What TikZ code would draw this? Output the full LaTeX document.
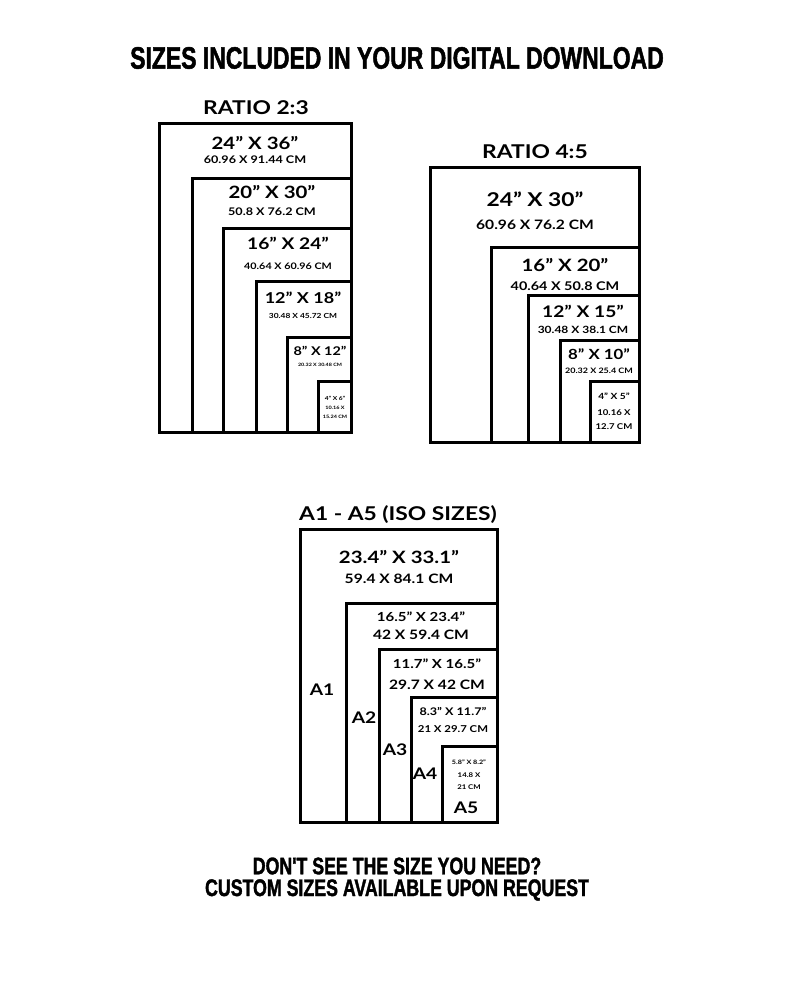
\documentclass[tikz,border=0pt]{standalone}
\usepackage{fontspec}
\setmainfont{Lato}[FakeStretch=1.2]
\newfontfamily\condfont{Liberation Sans}[FakeStretch=0.74,FakeBold=1.5]
\tikzset{
    every node/.append style={font=\bfseries, inner sep=0pt},
    frame/.style={line width=3pt, draw=black},
    head/.style={font=\condfont\bfseries\fontsize{31}{32}\selectfont},
    foot/.style={font=\condfont\bfseries\fontsize{24}{24}\selectfont},
    group/.style={font=\bfseries\fontsize{19}{20}\selectfont},
    big/.style={font=\bfseries\fontsize{#1}{#1}\selectfont},
}
\begin{document}
\begin{tikzpicture}[x=1pt,y=-1pt]
  \useasboundingbox (0,0) rectangle (794,993);

  % titles
  \node[head] (title) at (397,58) {SIZES INCLUDED IN YOUR DIGITAL DOWNLOAD};
  \node[foot] (ask) at (397,866) {DON'T SEE THE SIZE YOU NEED?};
  \node[foot] (custom) at (397,890) {CUSTOM SIZES AVAILABLE UPON REQUEST};

  % ratio 2:3
  \node[group] (r23) at (256,108) {RATIO 2:3};
  \foreach \x/\y in {159/123,192/178,223/228,256/281,287/337,318/381}
    \draw[frame] (\x,\y) rectangle (351,432);
  \node[big=17] (s36) at (255,143) {24'' X 36''};
  \node[big=10.5] (c36) at (255,160) {60.96 X 91.44 CM};
  \node[big=17] (s30) at (272,192) {20'' X 30''};
  \node[big=10.5] (c30) at (272,212) {50.8 X 76.2 CM};
  \node[big=16] (s24) at (288,243) {16'' X 24''};
  \node[big=9] (c24) at (288,266) {40.64 X 60.96 CM};
  \node[big=15] (s18) at (303,298) {12'' X 18''};
  \node[big=7] (c18) at (303,316) {30.48 X 45.72 CM};
  \node[big=12] (s12) at (320,351) {8'' X 12''};
  \node[big=4.5] (c12) at (320,365) {20.32 X 30.48 CM};
  \node[big=5.5] (s6) at (335,398) {4'' X 6''};
  \node[big=4.6] (c6a) at (335,408) {10.16 X};
  \node[big=4.6] (c6b) at (335,417) {15.24 CM};

  % ratio 4:5
  \node[group] (r45) at (535,152) {RATIO 4:5};
  \foreach \x/\y in {430/167,491/247,528/295,560/340,590/381}
    \draw[frame] (\x,\y) rectangle (639,442);
  \node[big=19] (s530) at (535,199) {24'' X 30''};
  \node[big=13] (c530) at (535,225) {60.96 X 76.2 CM};
  \node[big=17] (s520) at (565,265) {16'' X 20''};
  \node[big=12] (c520) at (565,286) {40.64 X 50.8 CM};
  \node[big=16] (s515) at (583,311) {12'' X 15''};
  \node[big=10] (c515) at (583,330) {30.48 X 38.1 CM};
  \node[big=14] (s510) at (599,354) {8'' X 10''};
  \node[big=7.5] (c510) at (599,371) {20.32 X 25.4 CM};
  \node[big=8.5] (s55) at (614,396) {4'' X 5''};
  \node[big=8] (c55a) at (614,413) {10.16 X};
  \node[big=8] (c55b) at (614,427) {12.7 CM};

  % iso sizes
  \node[group] (iso) at (398,515) {A1 - A5 (ISO SIZES)};
  \foreach \x/\y in {300/529,346/603,379/649,411/697,442/746}
    \draw[frame] (\x,\y) rectangle (497,822);
  \node[big=17] (sa1) at (399,557) {23.4'' X 33.1''};
  \node[big=13] (ca1) at (399,579) {59.4 X 84.1 CM};
  \node[big=12.5] (sa2) at (421,617) {16.5'' X 23.4''};
  \node[big=13] (ca2) at (421,635) {42 X 59.4 CM};
  \node[big=12.5] (sa3) at (437,664) {11.7'' X 16.5''};
  \node[big=13] (ca3) at (437,685) {29.7 X 42 CM};
  \node[big=10.5] (sa4) at (453,711) {8.3'' X 11.7''};
  \node[big=9.5] (ca4) at (453,729) {21 X 29.7 CM};
  \node[big=6] (sa5) at (469,762) {5.8'' X 8.2''};
  \node[big=6.5] (ca5a) at (469,775) {14.8 X};
  \node[big=6.5] (ca5b) at (469,787) {21 CM};
  \node[big=16] (a1) at (322,690) {A1};
  \node[big=16] (a2) at (364,718) {A2};
  \node[big=16] (a3) at (395,750) {A3};
  \node[big=16] (a4) at (425,774) {A4};
  \node[big=16] (a5) at (466,808) {A5};
\end{tikzpicture}
\end{document}
